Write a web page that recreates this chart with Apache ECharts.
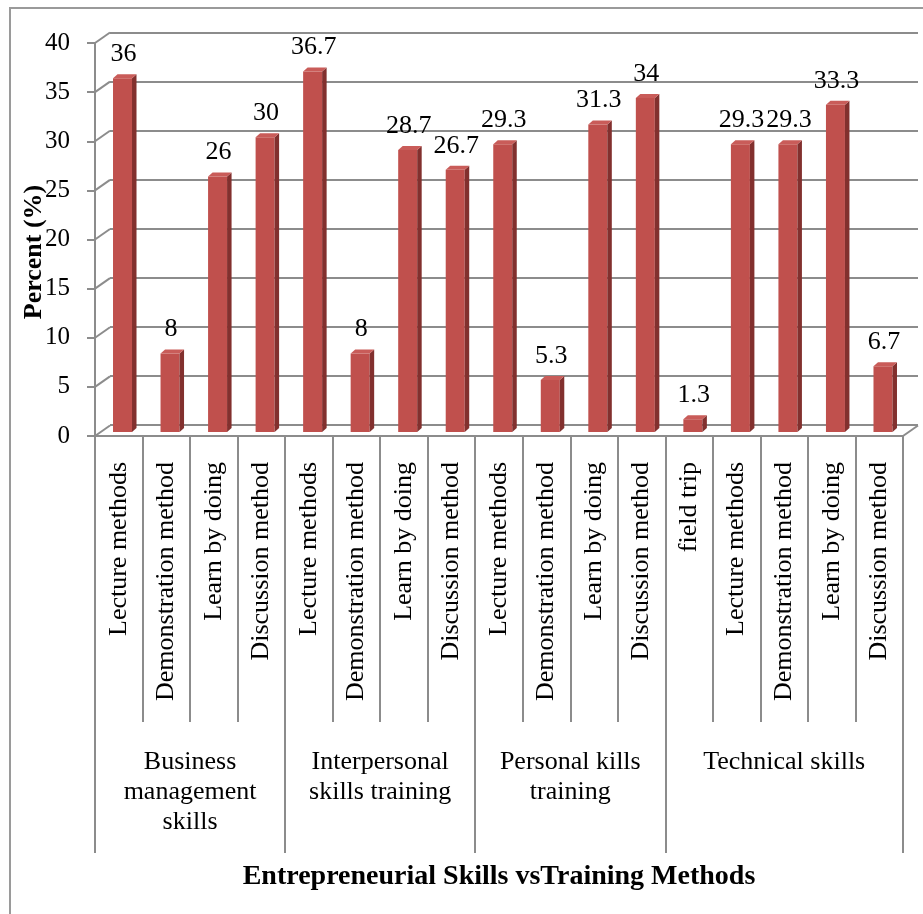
<!DOCTYPE html>
<html>
<head>
<meta charset="utf-8">
<script src="https://cdn.jsdelivr.net/npm/echarts@6/dist/echarts.min.js"></script>
<style>
  html, body { margin: 0; padding: 0; background: #fff; }
  #chart { width: 923px; height: 914px; }
</style>
</head>
<body>
<div id="chart"></div>
<script>
// methods (inner axis level)
var methods = [
  'Lecture methods', 'Demonstration method', 'Learn by doing', 'Discussion method',
  'Lecture methods', 'Demonstration method', 'Learn by doing', 'Discussion method',
  'Lecture methods', 'Demonstration method', 'Learn by doing', 'Discussion method',
  'field trip', 'Lecture methods', 'Demonstration method', 'Learn by doing', 'Discussion method'
];
// percent values
var percents = [36, 8, 26, 30, 36.7, 8, 28.7, 26.7, 29.3, 5.3, 31.3, 34, 1.3, 29.3, 29.3, 33.3, 6.7];
// skill groups (outer axis level)
var groups = ['Business\nmanagement\nskills', 'Interpersonal\nskills training', 'Personal kills\ntraining', 'Technical skills'];
var groupBounds = [0, 4, 8, 12, 17];
var yMin = 0, yMax = 40, yStep = 5;

var groupCenters = [];
for (var g = 0; g < groups.length; g++) {
  groupCenters.push((groupBounds[g] + groupBounds[g + 1]) / 2);
}

var serif = 'Liberation Serif';
var lineColor = '#8c8c8c';

var myChart = echarts.init(document.getElementById('chart'));

var barData = percents.map(function (v, i) { return [i, v]; });
var wallTicks = [];
for (var t = yMin; t <= yMax; t += yStep) wallTicks.push([0, t]);

var option = {
  animation: false,
  backgroundColor: '#fff',
  grid: [
    // back wall
    { left: 110, right: 5, top: 33, bottom: 489, outerBoundsMode: 'none' },
    // front plane
    { left: 95, right: 20, top: 43, bottom: 478, outerBoundsMode: 'none' }
  ],
  xAxis: [
    { gridIndex: 0, type: 'value', min: 0, max: 17, show: false },
    {
      gridIndex: 1, type: 'category', data: methods, position: 'bottom',
      axisLine: { show: true, lineStyle: { color: lineColor, width: 2 } },
      axisTick: { show: true, interval: 0, length: 286, lineStyle: { color: lineColor, width: 2 } },
      axisLabel: {
        interval: 0, rotate: 90, margin: 26,
        fontFamily: serif, fontSize: 26, color: '#000'
      },
      splitLine: { show: false }
    },
    {
      gridIndex: 1, type: 'value', min: 0, max: 17, position: 'bottom',
      axisLine: { show: false },
      axisTick: { show: true, customValues: groupBounds, length: 417, lineStyle: { color: lineColor, width: 2 } },
      axisLabel: {
        customValues: groupCenters, margin: 311,
        fontFamily: serif, fontSize: 26, lineHeight: 30, color: '#000', align: 'center',
        formatter: function (v) {
          var idx = groupCenters.indexOf(v);
          return idx >= 0 ? groups[idx] : '';
        }
      },
      splitLine: { show: false }
    }
  ],
  yAxis: [
    {
      gridIndex: 0, type: 'value', min: yMin, max: yMax, interval: yStep,
      axisLine: { show: false }, axisTick: { show: false }, axisLabel: { show: false },
      splitLine: { show: true, lineStyle: { color: lineColor, width: 2 } }
    },
    {
      gridIndex: 1, type: 'value', min: yMin, max: yMax, interval: yStep,
      axisLine: { show: true, lineStyle: { color: lineColor, width: 2 } },
      axisTick: { show: true, length: 8, lineStyle: { color: lineColor, width: 2 } },
      axisLabel: { margin: 25, fontFamily: serif, fontSize: 25, color: '#000' },
      splitLine: { show: false }
    }
  ],
  graphic: [
    {
      type: 'rect', silent: true, z: -1,
      shape: { x: 10, y: 8, width: 1000, height: 1000 },
      style: { fill: 'none', stroke: '#9a9a9a', lineWidth: 2 }
    },
    {
      type: 'text', x: 34, y: 252, rotation: Math.PI / 2,
      style: {
        text: 'Percent (%)', fontFamily: serif, fontSize: 26, fontWeight: 'bold',
        fill: '#000', align: 'center', verticalAlign: 'middle'
      }
    },
    {
      type: 'text', x: 499, y: 877,
      style: {
        text: 'Entrepreneurial Skills vsTraining Methods', fontFamily: serif, fontSize: 28,
        fontWeight: 'bold', fill: '#000', align: 'center', verticalAlign: 'middle'
      }
    }
  ],
  series: [
    {
      // diagonal connectors from the front axis to the back wall
      type: 'custom', xAxisIndex: 2, yAxisIndex: 1, silent: true,
      data: wallTicks.concat([[17, 0]]),
      renderItem: function (params, api) {
        var p = api.coord([api.value(0), api.value(1)]);
        return {
          type: 'line',
          shape: { x1: p[0], y1: p[1], x2: p[0] + 15, y2: p[1] - 10.5 },
          style: { stroke: lineColor, lineWidth: 2 }
        };
      }
    },
    {
      type: 'custom', xAxisIndex: 1, yAxisIndex: 1, silent: true,
      data: barData,
      encode: { x: 0, y: 1 },
      renderItem: function (params, api) {
        var base = api.coord([api.value(0), 0]);
        var top = api.coord([api.value(0), api.value(1)]);
        var w = 19, dx = 4.5, dy = 4;
        var cx = base[0] + 3.75;
        var left = cx - w / 2;
        var bottom = base[1] - 4;
        var yt = top[1] - 4;
        return {
          type: 'group',
          children: [
            {
              type: 'rect',
              shape: { x: left, y: yt, width: w, height: bottom - yt },
              style: { fill: '#c0504d' }
            },
            {
              type: 'polygon',
              shape: { points: [[left + w, yt], [left + w + dx, yt - dy], [left + w + dx, bottom - dy], [left + w, bottom]] },
              style: { fill: '#82302e' }
            },
            {
              type: 'polygon',
              shape: { points: [[left, yt], [left + dx, yt - dy], [left + w + dx, yt - dy], [left + w, yt]] },
              style: { fill: '#c95c59' }
            },
            {
              type: 'text',
              x: cx + 1, y: yt - 24,
              style: {
                text: String(api.value(1)), fontFamily: serif, fontSize: 26,
                fill: '#000', align: 'center', verticalAlign: 'middle'
              }
            }
          ]
        };
      }
    }
  ]
};

myChart.setOption(option);
window.addEventListener('resize', function () {
  myChart.resize();
});
</script>
</body>
</html>
